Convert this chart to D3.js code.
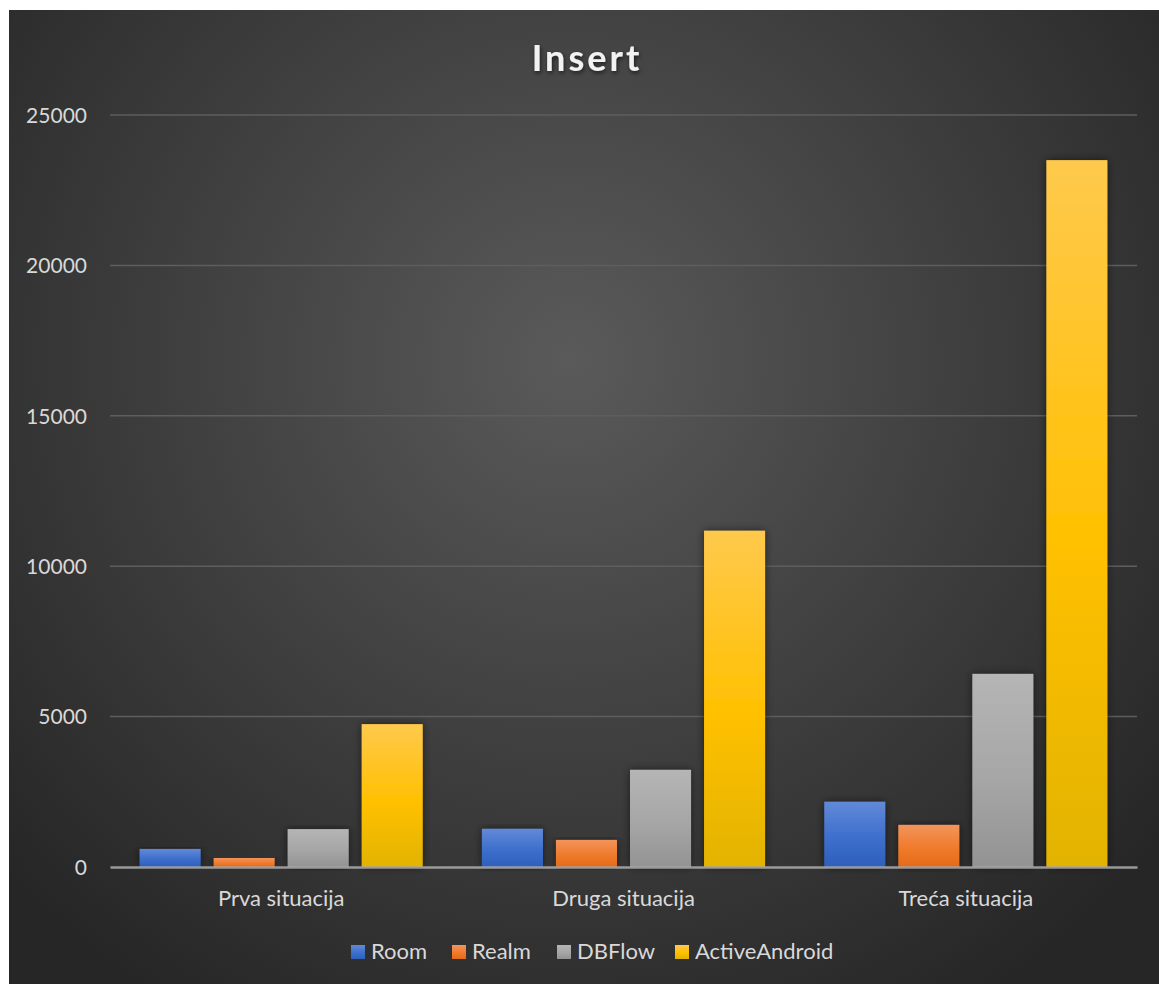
<!DOCTYPE html>
<html><head><meta charset="utf-8">
<script src="https://cdn.jsdelivr.net/npm/d3@7"></script>
<style>
html,body{margin:0;padding:0;background:#fff;}
svg{display:block;}
text{font-family:Lato,"Open Sans",sans-serif;}
</style></head>
<body>
<script>
const categories = ["Prva situacija", "Druga situacija", "Treća situacija"];
const seriesNames = ["Room", "Realm", "DBFlow", "ActiveAndroid"];
const room = [600, 1270, 2170];
const realm = [300, 900, 1400];
const dbflow = [1260, 3230, 6420];
const activeAndroid = [4750, 11180, 23500];
const yTicks = [0, 5000, 10000, 15000, 20000, 25000];
const chartTitle = "Insert";

const seriesValues = [room, realm, dbflow, activeAndroid];
const W = 1159, H = 984;
const margin = {left: 110, right: 22, top: 115, bottom: 117};
const svg = d3.select("body").append("svg").attr("width", W).attr("height", H);
const defs = svg.append("defs");

const bg = defs.append("radialGradient").attr("id","bg")
  .attr("gradientUnits","userSpaceOnUse").attr("cx",570).attr("cy",360).attr("r",760);
bg.append("stop").attr("offset","0%").attr("stop-color","#5a5a5a");
bg.append("stop").attr("offset","100%").attr("stop-color","#262626");

const grads = [
  ["#6289d8","#3d6fcc","#2e5fbb"],
  ["#f3945c","#f07b2c","#e46a18"],
  ["#b5b5b5","#a6a6a6","#939393"],
  ["#ffc94c","#ffc000","#e2b300"]
];
grads.forEach((g,i)=>{
  const lg = defs.append("linearGradient").attr("id","g"+i).attr("x1",0).attr("y1",0).attr("x2",0).attr("y2",1);
  lg.append("stop").attr("offset","0%").attr("stop-color",g[0]);
  lg.append("stop").attr("offset","55%").attr("stop-color",g[1]);
  lg.append("stop").attr("offset","100%").attr("stop-color",g[2]);
});
const f = defs.append("filter").attr("id","sh").attr("x","-30%").attr("y","-10%").attr("width","160%").attr("height","120%");
f.append("feDropShadow").attr("dx",0).attr("dy",0).attr("stdDeviation",4).attr("flood-color","#000").attr("flood-opacity",0.55);
const tf = defs.append("filter").attr("id","tsh").attr("x","-20%").attr("y","-20%").attr("width","140%").attr("height","160%");
tf.append("feDropShadow").attr("dx",1).attr("dy",2).attr("stdDeviation",2).attr("flood-color","#000").attr("flood-opacity",0.6);

svg.append("rect").attr("x",9).attr("y",10).attr("width",W-9).attr("height",H-10).attr("fill","url(#bg)");

const x0 = d3.scaleBand().domain(categories).range([margin.left, W - margin.right]).padding(0);
const x1 = d3.scaleBand().domain(seriesNames).range([0, x0.bandwidth()]).paddingInner(0.176).paddingOuter(0.4);
const y = d3.scaleLinear().domain([0, 25000]).range([H - margin.bottom, margin.top]);

// gridlines
svg.append("g").selectAll("line").data(yTicks.filter(t=>t>0)).join("line")
  .attr("x1", margin.left).attr("x2", W - margin.right)
  .attr("y1", d=>y(d)).attr("y2", d=>y(d))
  .attr("stroke","#5e5e5e").attr("stroke-width",1.5);

// y axis labels
const yAxis = d3.axisLeft(y).tickValues(yTicks).tickSize(0).tickPadding(0).tickFormat(d3.format("d"));
const ya = svg.append("g").attr("transform",`translate(87,0)`).call(yAxis);
ya.select(".domain").remove();
ya.selectAll("text").attr("fill","#d9d9d9").attr("font-size",21).attr("dy","0.35em");

// bars
const groups = svg.append("g").selectAll("g").data(categories).join("g")
  .attr("transform", d=>`translate(${x0(d)},0)`);
groups.selectAll("rect").data((c,ci)=>seriesNames.map((s,si)=>({s, si, v: seriesValues[si][ci]}))).join("rect")
  .attr("x", d=>x1(d.s)).attr("width", x1.bandwidth())
  .attr("y", d=>y(d.v)).attr("height", d=>y(0)-y(d.v))
  .attr("fill", d=>`url(#g${d.si})`).attr("filter","url(#sh)");

// x axis
const xAxis = d3.axisBottom(x0).tickSize(0).tickPadding(0);
const xa = svg.append("g").attr("transform",`translate(0,${y(0)})`).call(xAxis);
xa.select(".domain").attr("stroke","#a6a6a6").attr("stroke-width",2.5).attr("opacity",0.9);
xa.selectAll("text").attr("fill","#d9d9d9").attr("font-size",22).attr("y",39).attr("dy",0);

// title
svg.append("text").attr("x",587).attr("y",71).attr("text-anchor","middle")
  .attr("font-size",36).attr("font-weight","bold").attr("letter-spacing",3)
  .attr("fill","#f2f2f2").attr("filter","url(#tsh)").text(chartTitle);

// legend
const legendX = [351, 452, 557, 675];
const lg = svg.append("g").selectAll("g").data(seriesNames).join("g")
  .attr("transform",(d,i)=>`translate(${legendX[i]},945)`);
lg.append("rect").attr("width",14).attr("height",14).attr("fill",(d,i)=>`url(#g${i})`);
lg.append("text").attr("x",20).attr("y",14).attr("fill","#d9d9d9").attr("font-size",22).text(d=>d);
</script>
</body></html>
